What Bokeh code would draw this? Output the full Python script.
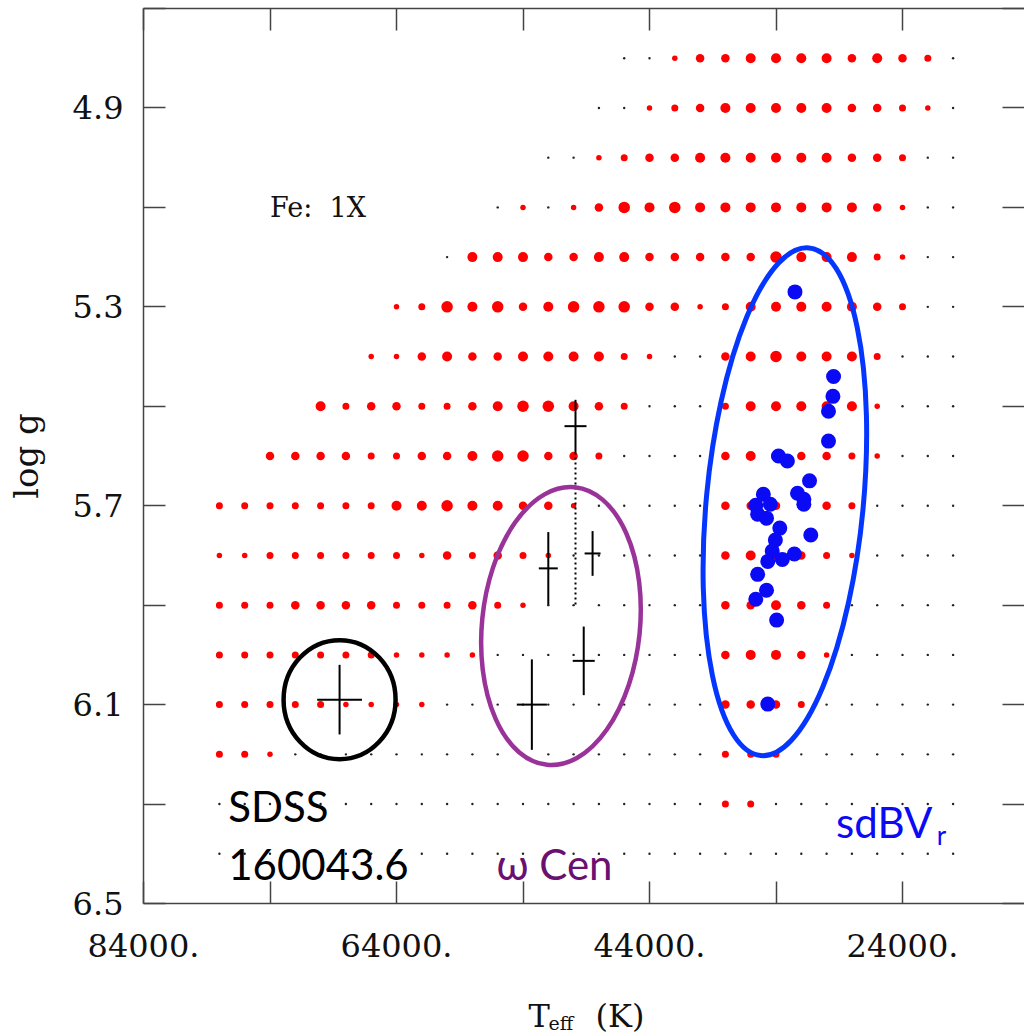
from bokeh.plotting import figure
from bokeh.layouts import column
from bokeh.models import ColumnDataSource, Range1d, LinearAxis, FixedTicker, Label, CustomJSTickFormatter
from bokeh.core.properties import value
from bokeh.embed import file_html
from bokeh.resources import INLINE

# ---------------- data ----------------
teff_grid = [78000, 76000, 74000, 72000, 70000, 68000, 66000, 64000, 62000, 60000,
             58000, 56000, 54000, 52000, 50000, 48000, 46000, 44000, 42000, 40000,
             38000, 36000, 34000, 32000, 30000, 28000, 26000, 24000, 22000, 20000]
logg_grid = [4.8, 4.9, 5.0, 5.1, 5.2, 5.3, 5.4, 5.5, 5.6, 5.7, 5.8, 5.9, 6.0, 6.1, 6.2, 6.3, 6.4]
# per model: '-' no model, '0' stable, '1'..'5' instability strength
mode_rows = [
    "----------------00133444434320",  # 4.8
    "---------------001234444433210",  # 4.9
    "-------------00123344444433200",  # 5.0
    "-----------0101354544444443100",  # 5.1
    "---------044433443333354442100",  # 5.2
    "-------12545345553312444443200",  # 5.3
    "------113433444421003454442000",  # 5.4
    "----42332234554320002444441000",  # 5.5
    "--3333223345533200003443321000",  # 5.6
    "222222244544331000003333320000",  # 5.7
    "112222221323210000003433210000",  # 5.8
    "222333322232100000003343200000",  # 5.9
    "222222211110000000003443100000",  # 6.0
    "222221111000000000003332000000",  # 6.1
    "221000000000000000002220000000",  # 6.2
    "000000000000000000002200000000",  # 6.3
    "000000000000000000000000000000",  # 6.4
]

# sdBV_r pulsators
sdbv_teff = [32500, 29450, 29500, 29850, 29850, 33800, 33100, 31350, 32300, 31800,
             31800, 35000, 35600, 34450, 35450, 34750, 33700, 31250, 34050, 34300,
             33500, 32550, 34650, 35450, 34750, 35600, 33950, 34650]
sdbv_logg = [5.27, 5.44, 5.48, 5.51, 5.57, 5.60, 5.61, 5.65, 5.675, 5.687,
             5.697, 5.677, 5.699, 5.697, 5.717, 5.725, 5.745, 5.759, 5.769, 5.791,
             5.808, 5.797, 5.812, 5.838, 5.870, 5.888, 5.930, 6.099]

# omega Cen sdO pulsators (with errors)
wcen_teff = [49850, 52000, 48500, 49200, 53300]
wcen_logg = [5.54, 5.826, 5.796, 6.012, 6.10]
wcen_dteff = [870, 750, 630, 870, 1190]
wcen_dlogg = [0.053, 0.073, 0.045, 0.069, 0.091]
wcen_alt_logg = 5.90   # alternative log g of the first star (dotted)

# SDSS J160043.6
sdss_teff = [68500]
sdss_logg = [6.09]
sdss_dteff = [1770]
sdss_dlogg = [0.07]

# axes ticks
x_major_ticks = [84000, 64000, 44000, 24000]
x_minor_ticks = [74000, 54000, 34000]
y_major_ticks = [4.9, 5.3, 5.7, 6.1, 6.5]
y_minor_ticks = [4.7, 5.1, 5.5, 5.9, 6.3]

# ---------------- styles ----------------
LEVEL_SIZE = {1: 5.5, 2: 7.0, 3: 8.5, 4: 10.0, 5: 11.5}
SERIF = "DejaVu Serif"
SANS = "Lato"
AX = "#444444"
INK = "#111111"

st_x, st_y, un_x, un_y, un_s = [], [], [], [], []
for g, row in zip(logg_grid, mode_rows):
    for t, c in zip(teff_grid, row):
        if c == "-":
            continue
        if c == "0":
            st_x.append(t); st_y.append(g)
        else:
            un_x.append(t); un_y.append(g); un_s.append(LEVEL_SIZE[int(c)])

xr = Range1d(84000, 14356)
p = figure(width=1024, height=980, x_range=xr, y_range=Range1d(6.5, 4.7),
           x_axis_location=None, y_axis_location=None, title_location=None,
           output_backend="svg", toolbar_location=None,
           min_border_left=143, min_border_right=0, min_border_top=8, min_border_bottom=77,
           background_fill_color="white", border_fill_color="white")
p.outline_line_color = None
p.grid.visible = False


def style(ax):
    ax.axis_line_color = AX
    ax.axis_line_width = 1.5
    ax.major_tick_line_color = AX
    ax.major_tick_line_width = 1.5
    ax.minor_tick_line_color = AX
    ax.minor_tick_line_width = 1.5
    ax.major_tick_in = 22
    ax.major_tick_out = 0
    ax.minor_tick_in = 22
    ax.minor_tick_out = 0
    ax.major_label_text_font = SERIF
    ax.major_label_text_font_size = "32px"
    ax.major_label_text_color = INK


left = LinearAxis(ticker=FixedTicker(ticks=y_major_ticks, minor_ticks=y_minor_ticks),
                  formatter=CustomJSTickFormatter(code="return tick.toFixed(1);"),
                  axis_label="log g")
style(left)
left.major_label_standoff = 20
left.axis_label_text_font = SERIF
left.axis_label_text_font_size = "34px"
left.axis_label_text_font_style = "normal"
left.axis_label_text_color = INK
left.axis_label_standoff = 24
p.add_layout(left, "left")

bottom = LinearAxis(ticker=FixedTicker(ticks=x_major_ticks, minor_ticks=x_minor_ticks),
                    formatter=CustomJSTickFormatter(code="return tick.toFixed(0) + '.';"))
style(bottom)
bottom.major_label_standoff = 30
p.add_layout(bottom, "below")

top = LinearAxis(ticker=FixedTicker(ticks=x_major_ticks + x_minor_ticks),
                 formatter=CustomJSTickFormatter(code="return '';"))
style(top)
top.major_label_text_font_size = "0px"
top.major_label_standoff = 0
p.add_layout(top, "above")

right = LinearAxis(ticker=FixedTicker(ticks=y_major_ticks + y_minor_ticks),
                   formatter=CustomJSTickFormatter(code="return '';"))
style(right)
right.axis_line_color = None
right.major_label_text_font_size = "0px"
right.major_label_standoff = 0
p.add_layout(right, "right")

# model grid
p.scatter(st_x, st_y, size=2.4, color="#222222", line_color=None)
p.scatter(x="x", y="y", size="s", source=ColumnDataSource(dict(x=un_x, y=un_y, s=un_s)),
          color="#ff0000", line_color=None)

# sdBV_r stars
p.scatter(sdbv_teff, sdbv_logg, size=15, color="#0a0af5", line_color=None)

# omega Cen error crosses
p.segment(x0=[t - d for t, d in zip(wcen_teff, wcen_dteff)], y0=wcen_logg,
          x1=[t + d for t, d in zip(wcen_teff, wcen_dteff)], y1=wcen_logg,
          line_color="black", line_width=2)
p.segment(x0=wcen_teff, y0=[g - d for g, d in zip(wcen_logg, wcen_dlogg)],
          x1=wcen_teff, y1=[g + d for g, d in zip(wcen_logg, wcen_dlogg)],
          line_color="black", line_width=2)
p.segment(x0=[wcen_teff[0]], y0=[wcen_logg[0] + wcen_dlogg[0]], x1=[wcen_teff[0]], y1=[wcen_alt_logg],
          line_color="black", line_width=2, line_dash="2 3")

# SDSS cross
p.segment(x0=[sdss_teff[0] - sdss_dteff[0]], y0=sdss_logg, x1=[sdss_teff[0] + sdss_dteff[0]], y1=sdss_logg,
          line_color="black", line_width=2)
p.segment(x0=sdss_teff, y0=[sdss_logg[0] - sdss_dlogg[0]], x1=sdss_teff, y1=[sdss_logg[0] + sdss_dlogg[0]],
          line_color="black", line_width=2)

# highlight ellipses
p.ellipse(x=sdss_teff, y=sdss_logg, width=112, height=119, width_units="screen", height_units="screen",
          fill_color=None, line_color="black", line_width=4.5)
p.ellipse(x=[51000], y=[5.942], width=158, height=279, angle=-0.1,
          width_units="screen", height_units="screen",
          fill_color=None, line_color="#993399", line_width=4.5)
p.ellipse(x=[33300], y=[5.692], width=157, height=510, angle=-0.095,
          width_units="screen", height_units="screen",
          fill_color=None, line_color="#0536ff", line_width=5)

# texts
def lab(x, y, text, font, size, color="black", align="left"):
    p.add_layout(Label(x=x, y=y, text=text, text_font=font, text_font_size=size,
                       text_color=color, text_align=align, text_baseline="alphabetic"))

lab(74000, 5.1, "Fe:\u00a0 1X", SERIF, "27px", INK)
lab(77300, 6.304, "SDSS", SANS, "42px")
lab(77300, 6.421, "160043.6", SANS, "42px")
lab(56100, 6.421, "\u03c9 Cen", SANS, "42px", "#6a1070")
lab(29250, 6.336, "sdBV", SANS, "42px", "#0a0af5")
lab(21300, 6.362, "r", SANS, "26px", "#0a0af5")

# x-axis title strip: T_eff (K)
p2 = figure(width=1024, height=55, x_range=xr, y_range=Range1d(55, 0),
            x_axis_location=None, y_axis_location=None, title_location=None,
            output_backend="svg", toolbar_location=None,
            min_border_left=143, min_border_right=0, min_border_top=0, min_border_bottom=0,
            background_fill_color="white", border_fill_color="white")
p2.outline_line_color = None
p2.grid.visible = False
p2.text(x=[53560, 48270], y=[35, 35], text=["T", "(K)"], text_font=value(SERIF),
        text_font_size="32px", text_color=INK, text_baseline="alphabetic", text_align="left")
p2.text(x=[51980], y=[42], text=["eff"], text_font=value(SERIF),
        text_font_size="19px", text_color=INK, text_baseline="alphabetic", text_align="left")

layout = column(p, p2, spacing=0)
open("out.html", "w").write(file_html(layout, INLINE))
